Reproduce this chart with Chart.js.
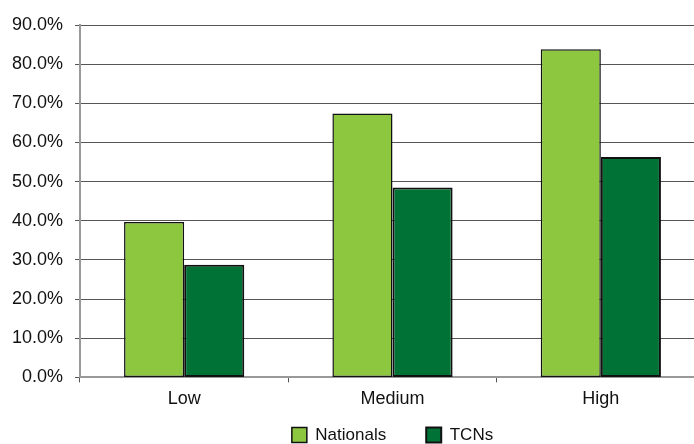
<!DOCTYPE html>
<html>
<head>
<meta charset="utf-8">
<script src="https://cdn.jsdelivr.net/npm/chart.js@4/dist/chart.umd.min.js"></script>
<style>
html,body{margin:0;padding:0;background:#fff;overflow:hidden;}
#wrap{width:712px;height:444px;position:relative;}
</style>
</head>
<body>
<div id="wrap"><canvas id="c" width="712" height="444"></canvas></div>
<script>
const categories = ["Low", "Medium", "High"];
const nationals = [39.7, 67.4, 83.8];
const tcns = [28.8, 48.5, 56.3];
const seriesNames = ["Nationals", "TCNs"];

Chart.defaults.font.family = "'Liberation Sans', Arial, sans-serif";
Chart.defaults.font.size = 18;
Chart.defaults.color = "#111";

const legendTweak = {
  id: "legendTweak",
  beforeUpdate(chart) {
    const lg = chart.legend;
    if (lg && !lg._patched) {
      const orig = lg.fit.bind(lg);
      lg.fit = function () { orig(); this.height = 28; };
      lg._patched = true;
    }
  },
  afterLayout(chart) {
    const lg = chart.legend;
    if (!lg) return;
    const pad = lg.options.labels.padding;
    const target = chart.height - 9 - pad - 8.5;
    const dy = target - lg.top;
    lg.top += dy;
    lg.bottom = chart.height;
    lg.height = lg.bottom - lg.top;
  }
};

new Chart(document.getElementById("c"), {
  type: "bar",
  data: {
    labels: categories,
    datasets: [
      {label: seriesNames[0], data: nationals, backgroundColor: "#8DC63F", borderColor: "#111", borderWidth: 1.5, borderSkipped: false},
      {label: seriesNames[1], data: tcns, backgroundColor: "#007236", borderColor: "#111", borderWidth: 2, borderSkipped: false}
    ]
  },
  plugins: [legendTweak],
  options: {
    responsive: false,
    animation: false,
    devicePixelRatio: 1,
    layout: {padding: {top: 25, right: 7, left: 0, bottom: 0}},
    datasets: {bar: {categoryPercentage: 0.577, barPercentage: 1}},
    plugins: {
      tooltip: {enabled: false},
      legend: {
        position: "bottom",
        fullSize: false,
        labels: {boxWidth: 15, boxHeight: 15, padding: 40, font: {size: 17}, color: "#111"}
      }
    },
    scales: {
      x: {
        grid: {display: true, drawOnChartArea: false, drawTicks: true, tickLength: 5, color: "#555", offset: true},
        border: {color: "#999", width: 2},
        ticks: {padding: 6, font: {size: 18}, color: "#111"}
      },
      y: {
        min: 0, max: 90,
        afterFit: (s) => { s.width = 80; },
        grid: {color: "#555", lineWidth: 1, tickLength: 5, drawTicks: true},
        border: {color: "#999", width: 2},
        ticks: {stepSize: 10, padding: 12, font: {size: 18}, color: "#111",
          callback: (v) => v.toFixed(1) + "%"}
      }
    }
  }
});
</script>
</body>
</html>
